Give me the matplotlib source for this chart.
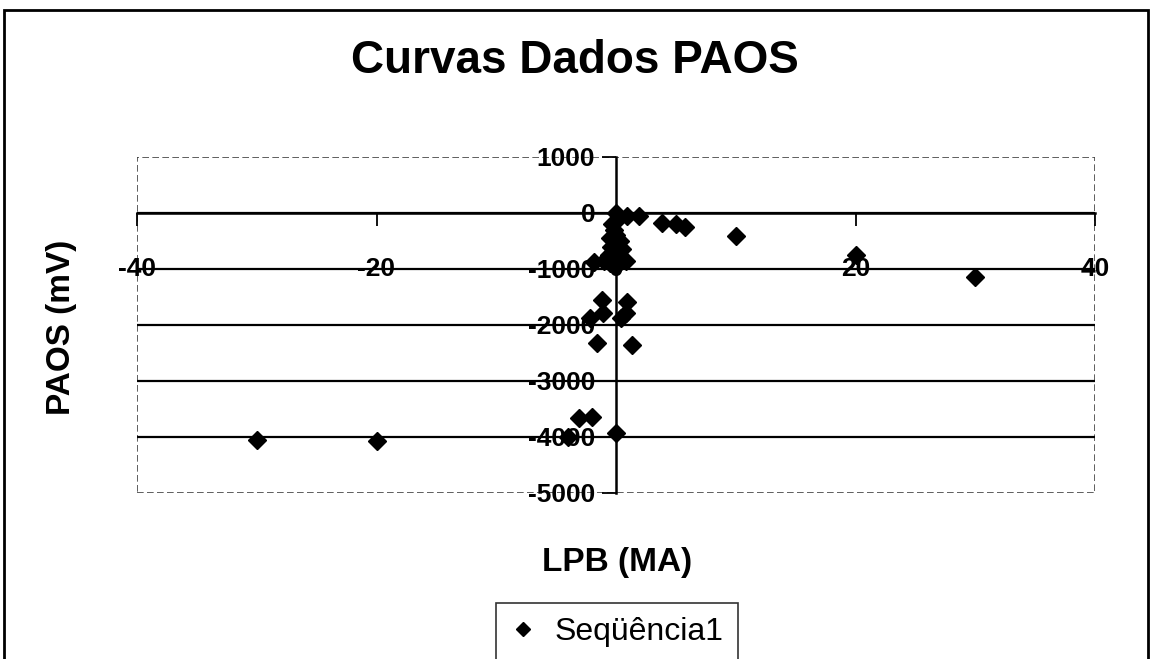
import matplotlib.pyplot as plt
from matplotlib.patches import Rectangle
import matplotlib.lines as mlines

plt.rcParams['font.family'] = ['Liberation Sans', 'DejaVu Sans']
plt.rcParams['axes.unicode_minus'] = False

# --> data
lpb = [-30, -20, 10, 20, 30,
       0.9, 1.9, 3.8, 5.0, 5.8,
       0, 0.2, -0.3, -0.2, 0, -0.5, 0.3, -0.4, 0.5, -0.6, 0.2, -1.0, 0.8, -1.8, -0.5, 0,
       -1.2, 0.9, -1.1, 0.8, -2.2, 0.4, -1.6, 1.35,
       -3.1, -2.0, 0, -4.0]
paos = [-4050, -4070, -410, -750, -1140,
        -60, -60, -180, -190, -250,
        0, -100, -200, -300, -400, -450, -500, -600, -650, -750, -800, -850, -850, -880, -900, -950,
        -1550, -1590, -1790, -1790, -1880, -1880, -2320, -2360,
        -3660, -3640, -3930, -4000]

x_ticks = [-40, -20, 0, 20, 40]
y_ticks = [1000, 0, -1000, -2000, -3000, -4000, -5000]

W, H = 1152, 659
fig = plt.figure(figsize=(W / 100, H / 100), dpi=100)
ax = fig.add_axes([137 / W, 1 - 493 / H, (1095 - 137) / W, (493 - 157) / H])

ax.set_xlim(-40, 40)
ax.set_ylim(-5000, 1000)

# horizontal gridlines
for yv in y_ticks[1:-1]:
    ax.axhline(yv, color='black', lw=1.6, zorder=1)

ax.plot(lpb, paos, linestyle='none', marker='D', markersize=9,
        color='black', zorder=3)

# axes crossing at the origin
ax.spines['left'].set_position(('data', 0))
ax.spines['bottom'].set_position(('data', 0))
ax.spines['left'].set_linewidth(1.8)
ax.spines['bottom'].set_linewidth(1.8)
ax.spines['top'].set_visible(False)
ax.spines['right'].set_visible(False)
ax.add_patch(Rectangle((0, 0), 1, 1, transform=ax.transAxes, fill=False,
                       edgecolor='#444444', lw=1.2, linestyle=(0, (4, 2)), zorder=0))

tick_font = dict(size=19, weight='bold')
ax.set_xticks(x_ticks)
ax.set_yticks(y_ticks)
ax.set_xticklabels([str(v) for v in x_ticks], fontdict=tick_font)
ax.set_yticklabels([str(v) for v in y_ticks], fontdict=tick_font)
ax.tick_params(axis='x', direction='out', length=9, width=1.3, pad=23)
ax.tick_params(axis='y', direction='out', length=10, width=1.3, pad=5)

fig.text(575 / W, 1 - 73 / H, 'Curvas Dados PAOS', ha='center', va='baseline',
         fontsize=33, fontweight='bold')
fig.text(617 / W, 1 - 571 / H, 'LPB (MA)', ha='center', va='baseline',
         fontsize=24, fontweight='bold')
fig.text(70 / W, 1 - 327 / H, 'PAOS (mV)', ha='center', va='baseline',
         rotation=90, rotation_mode='anchor', fontsize=24, fontweight='bold')

handle = mlines.Line2D([], [], linestyle='none', marker='D', markersize=7,
                       color='black', label='Seqüência1')
leg = fig.legend(handles=[handle], loc='upper center',
                 bbox_to_anchor=(617 / W, 1 - 603 / H), fontsize=23,
                 frameon=True, fancybox=False, edgecolor='black',
                 handlelength=0.8, handletextpad=0.6, borderpad=0.45,
                 borderaxespad=0)
leg.get_frame().set_linewidth(1.2)

# outer chart frame
fig.patches.append(Rectangle((4 / W, -0.05), (1148 - 4) / W, 1.05 - 10 / H,
                             transform=fig.transFigure, fill=False,
                             edgecolor='black', lw=2))

fig.savefig('out.png', dpi=100)
